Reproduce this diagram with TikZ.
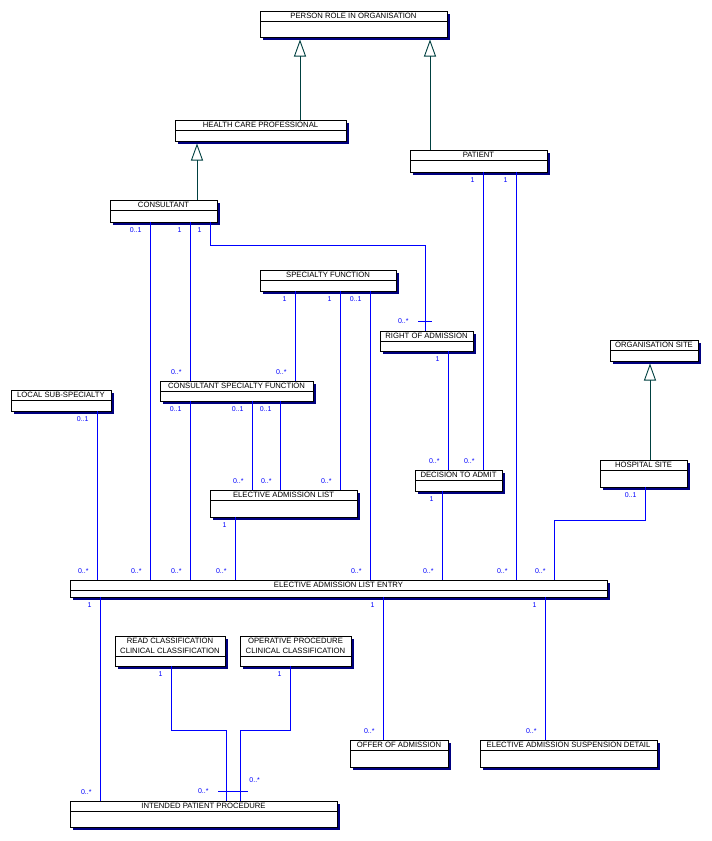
\documentclass[tikz,border=0pt]{standalone}
\usepackage{fontspec}
\setmainfont{Liberation Sans}
\usetikzlibrary{arrows.meta}
\definecolor{assocblue}{RGB}{0,0,255}
\definecolor{genline}{RGB}{0,64,64}
\definecolor{boxshadow}{RGB}{0,0,128}

\begin{document}
\begin{tikzpicture}[x=1pt,y=-1pt,
  cls/.style={draw,line width=0.9pt,fill=white,inner sep=0pt,outer sep=0pt},
  ttl/.style={font=\fontsize{7.7}{10}\selectfont,align=center,inner sep=0pt},
  assoc/.style={draw=assocblue,line width=0.9pt},
  mult/.style={font=\fontsize{7}{8}\selectfont,text=assocblue,inner sep=2pt,text height=5pt,text depth=0pt},
  m1/.style={mult,pos=0,anchor=north east,xshift=-6pt,yshift=-3pt},
  m2/.style={mult,pos=1,anchor=south east,xshift=-6pt,yshift=4pt},
  gen/.style={draw=genline,line width=0.9pt,-{Triangle[open,length=17pt,width=12pt]},shorten >=2.5pt}]
\useasboundingbox (0,0) rectangle (712,841);

% classes: name/x1/y1/x2/y2/header/title
\foreach \nm/\xa/\ya/\xb/\yb/\hd/\txt in {
  pro/260/11/447/37/10/{PERSON ROLE IN ORGANISATION},
  hcp/175/120/346/141/10/{HEALTH CARE PROFESSIONAL},
  pat/410/150/547/172/10/{PATIENT},
  cons/110/200/217/222/10/{CONSULTANT},
  sf/260/270/396/291/10/{SPECIALTY FUNCTION},
  roa/380/331/473/351/10/{RIGHT OF ADMISSION},
  org/610/340/698/361/10/{ORGANISATION SITE},
  csf/160/381/313/401/10/{CONSULTANT SPECIALTY FUNCTION},
  lss/11/390/111/411/10/{LOCAL SUB-SPECIALTY},
  hosp/600/460/687/487/10/{HOSPITAL SITE},
  dta/415/470/502/491/10/{DECISION TO ADMIT},
  eal/210/490/357/517/10/{ELECTIVE ADMISSION LIST},
  eale/70/580/607/597/10/{ELECTIVE ADMISSION LIST ENTRY},
  read/115/636/225/666/20/{READ CLASSIFICATION\\CLINICAL CLASSIFICATION},
  opcc/240/636/351/666/20/{OPERATIVE PROCEDURE\\CLINICAL CLASSIFICATION},
  offer/350/740/448/767/10/{OFFER OF ADMISSION},
  susp/480/740/657/767/10/{ELECTIVE ADMISSION SUSPENSION DETAIL},
  ipp/70/801/337/827/10/{INTENDED PATIENT PROCEDURE}}{
  \fill[boxshadow] (\xa+2.5,\ya+2.5) rectangle (\xb+2.5,\yb+2.5);
  \node[cls,minimum width={(\xb-\xa)*1pt},minimum height={(\yb-\ya)*1pt}] (\nm) at ({(\xa+\xb)/2},{(\ya+\yb)/2}) {};
  \draw[line width=0.9pt] (\xa,\ya+\hd) -- (\xb,\ya+\hd);
  \node[ttl] at ({(\xa+\xb)/2},{\ya+\hd/2}) {\txt};
}

% generalisations
\draw[gen] (300,0 |- hcp.north) -- (300,0 |- pro.south);
\draw[gen] (430,0 |- pat.north) -- (430,0 |- pro.south);
\draw[gen] (197,0 |- cons.north) -- (197,0 |- hcp.south);
\draw[gen] (650,0 |- hosp.north) -- (650,0 |- org.south);

% associations
\draw[assoc] (150,0 |- cons.south) -- node[m1]{0..1} node[m2]{0..*} (150,0 |- eale.north);
\draw[assoc] (190,0 |- cons.south) -- node[m1]{1} node[m2]{0..*} (190,0 |- csf.north);
\draw[assoc] (210,0 |- cons.south) -- node[m1]{1} (210,245) -- (425,245)
  -- node[mult,pos=1,anchor=east,xshift=-14pt,yshift=10.5pt]{0..*} (425,0 |- roa.north);
\draw[assoc] (418,321) -- (432,321);
\draw[assoc] (483,0 |- pat.south) -- node[m1]{1} node[m2]{0..*} (483,0 |- dta.north);
\draw[assoc] (516,0 |- pat.south) -- node[m1]{1} node[m2]{0..*} (516,0 |- eale.north);
\draw[assoc] (295,0 |- sf.south) -- node[m1]{1} node[m2]{0..*} (295,0 |- csf.north);
\draw[assoc] (340,0 |- sf.south) -- node[m1]{1} node[m2]{0..*} (340,0 |- eal.north);
\draw[assoc] (370,0 |- sf.south) -- node[m1]{0..1} node[m2]{0..*} (370,0 |- eale.north);
\draw[assoc] (448,0 |- roa.south) -- node[m1]{1} node[m2]{0..*} (448,0 |- dta.north);
\draw[assoc] (190,0 |- csf.south) -- node[m1]{0..1} node[m2]{0..*} (190,0 |- eale.north);
\draw[assoc] (252,0 |- csf.south) -- node[m1]{0..1} node[m2]{0..*} (252,0 |- eal.north);
\draw[assoc] (280,0 |- csf.south) -- node[m1]{0..1} node[m2]{0..*} (280,0 |- eal.north);
\draw[assoc] (97,0 |- lss.south) -- node[m1]{0..1} node[m2]{0..*} (97,0 |- eale.north);
\draw[assoc] (235,0 |- eal.south) -- node[m1]{1} node[m2]{0..*} (235,0 |- eale.north);
\draw[assoc] (442,0 |- dta.south) -- node[m1]{1} node[m2]{0..*} (442,0 |- eale.north);
\draw[assoc] (645,0 |- hosp.south) -- node[m1]{0..1} (645,520) -- (554,520)
  -- node[m2]{0..*} (554,0 |- eale.north);
\draw[assoc] (100,0 |- eale.south) -- node[m1]{1} node[m2]{0..*} (100,0 |- ipp.north);
\draw[assoc] (383,0 |- eale.south) -- node[m1]{1} node[m2]{0..*} (383,0 |- offer.north);
\draw[assoc] (545,0 |- eale.south) -- node[m1]{1} node[m2]{0..*} (545,0 |- susp.north);
\draw[assoc] (171,0 |- read.south) -- node[m1]{1} (171,730) -- (226,730)
  -- node[mult,pos=1,anchor=east,xshift=-15pt,yshift=10pt]{0..*} (226,0 |- ipp.north);
\draw[assoc] (290,0 |- opcc.south) -- node[m1]{1} (290,730) -- (240,730)
  -- node[mult,pos=1,anchor=west,xshift=7pt,yshift=21pt]{0..*} (240,0 |- ipp.north);
\draw[assoc] (218,791) -- (248,791);
\end{tikzpicture}
\end{document}
